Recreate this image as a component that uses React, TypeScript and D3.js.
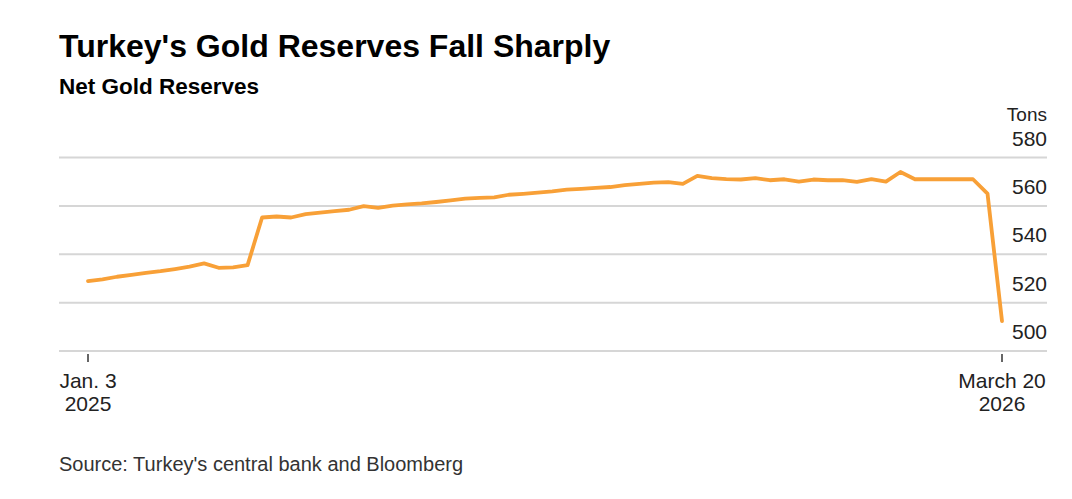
import React, { useEffect, useRef } from 'react';
import * as d3 from 'd3';

const title = "Turkey's Gold Reserves Fall Sharply";
const subtitle = 'Net Gold Reserves';
const source = "Source: Turkey's central bank and Bloomberg";
const unitLabel = 'Tons';

// weekly readings, first week ending Jan. 3 2025
const startDate = new Date(2025, 0, 3);
const reserves = [
  528.9, 529.6, 530.7, 531.5, 532.3, 533.0, 533.9, 534.9, 536.2, 534.4,
  534.6, 535.5, 555.2, 555.6, 555.2, 556.6, 557.2, 557.8, 558.4, 559.9,
  559.2, 560.1, 560.6, 561.0, 561.6, 562.3, 563.0, 563.3, 563.5, 564.6,
  565.0, 565.5, 566.0, 566.7, 567.0, 567.4, 567.8, 568.6, 569.1, 569.6,
  569.8, 569.1, 572.4, 571.5, 571.1, 570.9, 571.5, 570.6, 571.0, 570.0,
  570.9, 570.6, 570.6, 569.9, 571.1, 570.0, 574.0, 571.0, 571.0, 571.0,
  571.0, 571.0, 565.1, 512.4,
];
const yTicks = [500, 520, 540, 560, 580];
const xTickLabels = [
  ['Jan. 3', '2025'],
  ['March 20', '2026'],
];

const W = 1072;
const H = 499;

const App: React.FC = () => {
  const svgRef = useRef<SVGSVGElement>(null);

  useEffect(() => {
    if (!svgRef.current) return;
    const svg = d3.select(svgRef.current);
    svg.selectAll('*').remove();

    const font = '"Liberation Sans", Arial, sans-serif';
    const data = reserves.map((v, i) => ({ date: d3.timeDay.offset(startDate, i * 7), value: v }));
    const endDate = data[data.length - 1].date;

    const x = d3.scaleTime().domain([startDate, endDate]).range([88, 1002]);
    const y = d3.scaleLinear().domain([500, 580]).range([351, 157.5]);

    const gridLeft = 59;
    const gridRight = 1047;

    // Title block
    svg.append('text')
      .attr('x', 59).attr('y', 57)
      .style('font-family', font).style('font-size', '32px').style('font-weight', 'bold')
      .style('fill', '#000')
      .text(title);

    svg.append('text')
      .attr('x', 59).attr('y', 94)
      .style('font-family', font).style('font-size', '22.5px').style('font-weight', 'bold')
      .style('fill', '#000')
      .text(subtitle);

    // Gridlines
    svg.append('g')
      .selectAll('line')
      .data(yTicks)
      .enter().append('line')
      .attr('x1', gridLeft).attr('x2', gridRight)
      .attr('y1', d => y(d)).attr('y2', d => y(d))
      .attr('stroke', '#d6d6d6').attr('stroke-width', 2);

    // Y labels sit above their gridline, right aligned
    svg.append('g')
      .selectAll('text')
      .data(yTicks)
      .enter().append('text')
      .attr('x', gridRight).attr('y', d => y(d) - 12)
      .attr('text-anchor', 'end')
      .style('font-family', font).style('font-size', '21px').style('fill', '#222')
      .text(d => d);

    svg.append('text')
      .attr('x', gridRight).attr('y', y(580) - 37)
      .attr('text-anchor', 'end')
      .style('font-family', font).style('font-size', '19px').style('fill', '#222')
      .text(unitLabel);

    // X ticks at the ends only
    const xTickDates = [startDate, endDate];
    const xt = svg.append('g').selectAll('g')
      .data(xTickDates)
      .enter().append('g')
      .attr('transform', d => `translate(${x(d)},0)`);

    xt.append('line')
      .attr('y1', y(500) + 3).attr('y2', y(500) + 11)
      .attr('stroke', '#333').attr('stroke-width', 1.5);

    xt.append('text')
      .attr('y', 388)
      .attr('text-anchor', 'middle')
      .style('font-family', font).style('font-size', '21px').style('fill', '#222')
      .text((d, i) => xTickLabels[i][0]);

    xt.append('text')
      .attr('y', 411)
      .attr('text-anchor', 'middle')
      .style('font-family', font).style('font-size', '21px').style('fill', '#222')
      .text((d, i) => xTickLabels[i][1]);

    // Line
    const line = d3.line<{ date: Date; value: number }>()
      .x(d => x(d.date))
      .y(d => y(d.value));

    svg.append('path')
      .datum(data)
      .attr('d', line)
      .attr('fill', 'none')
      .attr('stroke', '#f8a037')
      .attr('stroke-width', 3.8)
      .attr('stroke-linejoin', 'round')
      .attr('stroke-linecap', 'round');

    // Source
    svg.append('text')
      .attr('x', 59).attr('y', 471)
      .style('font-family', font).style('font-size', '20px').style('fill', '#333')
      .text(source);
  }, []);

  return (
    <div style={{ position: 'absolute', left: 0, top: 0, background: 'white' }}>
      <svg ref={svgRef} width={W} height={H} style={{ display: 'block' }}></svg>
    </div>
  );
};

export default App;
